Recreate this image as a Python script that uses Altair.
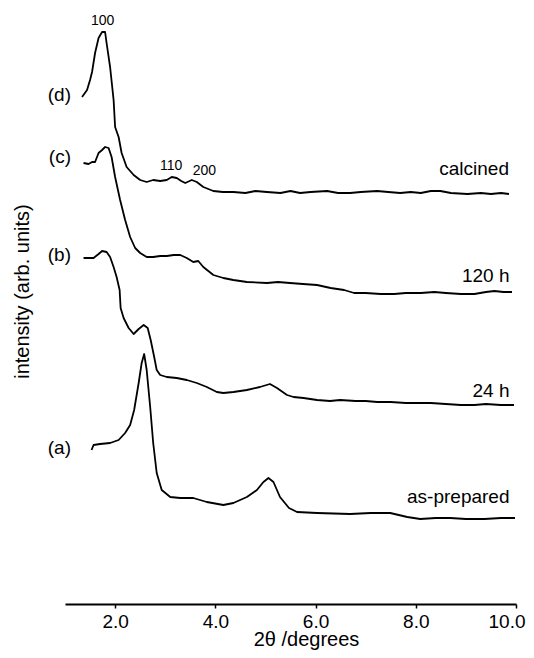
import altair as alt
import pandas as pd

# (d) calcined
d_x = [1.34,1.44,1.50,1.54,1.60,1.67,1.74,1.80,1.83,1.90,1.97,2.00,2.07,2.13,2.23,2.37,2.50,2.63,2.76,2.90,
       3.03,3.13,3.23,3.32,3.40,3.53,3.63,3.76,3.96,4.15,4.36,4.6,4.8,5.03,5.3,5.5,5.69,5.9,6.23,6.45,
       6.69,6.9,7.23,7.45,7.69,7.9,8.1,8.3,8.49,8.7,9.03,9.3,9.5,9.7,9.86]
d_y = [507,514,524,532,551,566,572,572,561,537,504,477,467,451,437,429,424,422,424,423,
       424,427,426,423,421,424,422,417,413,412,412,411,413,412,411,413,411,412,413,411,
       411,412,413,412,411,412,411,413,413,411,410,411,410,411,410]

# (c) 120 h
c_x = [1.37,1.47,1.54,1.60,1.67,1.74,1.80,1.87,1.93,2.00,2.10,2.20,2.30,2.40,2.50,2.63,2.76,2.90,3.03,3.17,
       3.30,3.43,3.56,3.66,3.76,3.96,4.16,4.36,4.63,5.03,5.25,5.49,5.75,6.03,6.3,6.57,6.77,7.0,7.3,7.57,
       7.8,8.1,8.37,8.6,8.9,9.17,9.4,9.57,9.75,9.92]
c_y = [441,440,442,442,451,454,457,456,447,427,404,384,367,356,351,347,347,348,348,349,
       349,346,342,343,337,329,326,324,322,321,322,321,320,319,316,314,311,311,310,310,
       311,311,312,311,310,310,312,313,312,312]

# (b) 24 h
b_x = [1.37,1.57,1.67,1.74,1.83,1.90,1.97,2.03,2.09,2.11,2.17,2.27,2.37,2.47,2.57,2.65,2.71,2.78,2.83,2.90,
       3.03,3.23,3.43,3.63,3.83,4.03,4.16,4.36,4.63,4.89,5.09,5.23,5.43,5.56,5.76,6.03,6.29,6.49,6.8,7.0,
       7.23,7.5,7.8,8.03,8.3,8.6,8.9,9.17,9.4,9.7,9.96]
b_y = [346,346,350,353,352,347,337,327,314,296,286,276,270,275,279,276,264,247,234,229,
       227,226,224,221,217,212,211,212,214,217,220,216,209,207,206,204,203,204,203,203,
       202,202,201,201,201,200,199,199,200,199,199]

# (a) as-prepared
a_x = [1.53,1.57,1.70,1.90,2.07,2.20,2.30,2.38,2.47,2.53,2.58,2.63,2.70,2.76,2.83,2.93,3.10,3.30,3.56,3.83,
       4.16,4.36,4.63,4.83,4.96,5.06,5.16,5.29,5.47,5.63,6.03,6.69,7.1,7.49,7.83,8.09,8.4,8.69,9.0,9.37,
       9.7,9.98]
a_y = [154,159,160,161,164,171,179,194,221,241,250,234,197,161,131,114,107,106,106,102,
       99,101,107,114,122,126,122,107,96,92,91,90,91,91,87,85,86,86,85,85,
       86,86]

letter_labels = ["(d)", "(c)", "(b)", "(a)"]
letter_x = [1.12, 1.12, 1.12, 1.12]
letter_y = [503, 441.5, 343, 150]

sample_labels = ["calcined", "120 h", "24 h", "as-prepared"]
sample_x = [9.86, 9.87, 9.87, 9.87]
sample_y = [429, 322, 207, 101]

peak_labels = ["100", "110", "200"]
peak_x = [1.75, 3.12, 3.78]
peak_y = [579, 434, 429]

x_ticks = [2, 4, 6, 8, 10]

rows = []
for name, xs, ys in [("d", d_x, d_y), ("c", c_x, c_y), ("b", b_x, b_y), ("a", a_x, a_y)]:
    assert len(xs) == len(ys)
    for xv, yv in zip(xs, ys):
        rows.append({"series": name, "x": xv, "y": yv})
curves = pd.DataFrame(rows)

FONT = "Liberation Sans"
xscale = alt.Scale(domain=[1.0, 10.0], nice=False, zero=False)
yscale = alt.Scale(domain=[0, 596], nice=False, zero=False)

lines = alt.Chart(curves).mark_line(color="black", strokeWidth=1.8, strokeJoin="round").encode(
    x=alt.X("x:Q", scale=xscale,
            axis=alt.Axis(title="2θ /degrees", values=x_ticks, format=".1f", grid=False,
                          labelFlush=True, labelFlushOffset=9,
                          domainColor="black", domainWidth=2, tickColor="black", tickWidth=1.5,
                          tickSize=4, labelPadding=4, labelFontSize=19, labelFont=FONT,
                          labelColor="black", titleFont=FONT, titleFontSize=20,
                          titleFontWeight="normal", titleColor="black", titleX=241, titleY=25,
                          titleAlign="center", titleBaseline="top")),
    y=alt.Y("y:Q", scale=yscale,
            axis=alt.Axis(title="intensity (arb. units)", labels=False, ticks=False, domain=False,
                          grid=False, titleFont=FONT, titleFontSize=20, titleFontWeight="normal",
                          titleColor="black", titleAngle=270, titleX=-33, titleY=283,
                          titleAlign="center", titleBaseline="bottom")),
    detail="series:N",
)

letters = alt.Chart(pd.DataFrame({"t": letter_labels, "x": letter_x, "y": letter_y})).mark_text(
    align="right", baseline="alphabetic", font=FONT, fontSize=19, color="black"
).encode(x=alt.X("x:Q", scale=xscale), y=alt.Y("y:Q", scale=yscale), text="t:N")

samples = alt.Chart(pd.DataFrame({"t": sample_labels, "x": sample_x, "y": sample_y})).mark_text(
    align="right", baseline="alphabetic", font=FONT, fontSize=19, color="black"
).encode(x=alt.X("x:Q", scale=xscale), y=alt.Y("y:Q", scale=yscale), text="t:N")

peaks = alt.Chart(pd.DataFrame({"t": peak_labels, "x": peak_x, "y": peak_y})).mark_text(
    align="center", baseline="alphabetic", font=FONT, fontSize=14, color="black"
).encode(x=alt.X("x:Q", scale=xscale), y=alt.Y("y:Q", scale=yscale), text="t:N")

chart = alt.layer(lines, letters, samples, peaks).properties(
    width=451, height=596,
    autosize=alt.AutoSizeParams(type="none"),
    padding={"left": 57, "top": 0, "right": 10, "bottom": 46},
    background="white",
).configure_view(stroke=None)

chart.save("out.html", embed_options={"renderer": "svg", "actions": False})
